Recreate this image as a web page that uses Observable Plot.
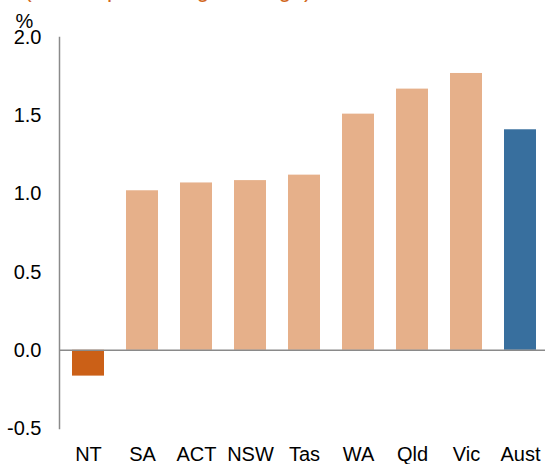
<!DOCTYPE html>
<html>
<head>
<meta charset="utf-8">
<script src="https://cdn.jsdelivr.net/npm/d3@7"></script>
<script src="https://cdn.jsdelivr.net/npm/@observablehq/plot@0.6"></script>
<style>
  html, body { margin: 0; padding: 0; background: #fff; }
  #wrap { position: relative; width: 545px; height: 464px; overflow: hidden; font-family: "Liberation Sans", Arial, sans-serif; }
  #title { position: absolute; left: 24px; top: -22px; font-size: 23px; line-height: 23px; color: #D2691E; white-space: nowrap; z-index: 2; }
</style>
</head>
<body>
<div id="wrap">
  <div id="title">(annual percentage change)</div>
  <div id="chart"></div>
</div>
<script>
const categories = ["NT", "SA", "ACT", "NSW", "Tas", "WA", "Qld", "Vic", "Aust"];
const values = [-0.165, 1.02, 1.07, 1.085, 1.12, 1.51, 1.67, 1.77, 1.41];
const yTicks = [-0.5, 0, 0.5, 1.0, 1.5, 2.0];
const unitLabel = ["%"];

const data = categories.map((c, i) => ({category: c, value: values[i]}));
const fillFor = d => d.category === "Aust" ? "#386F9E" : (d.value < 0 ? "#CB6017" : "#E6B08A");
const fmt = d => d.toFixed(1);

const chart = Plot.plot({
  width: 545,
  height: 464,
  marginLeft: 59,
  marginRight: 0,
  marginTop: 37,
  marginBottom: 36,
  style: {fontFamily: "'Liberation Sans', Arial, sans-serif", fontSize: "20px", color: "#000", background: "#fff"},
  x: {domain: categories, range: [59, 548], paddingInner: 0.41, paddingOuter: 0.2, label: null},
  y: {domain: [-0.5, 2.0], label: null},
  marks: [
    Plot.barY(data, {x: "category", y: "value", fill: fillFor}),
    Plot.ruleY([0], {stroke: "#8a8a8a", strokeWidth: 1.5}),
    Plot.frame({anchor: "left", stroke: "#8a8a8a", strokeWidth: 1.5}),
    Plot.axisY(yTicks, {tickSize: 0, tickPadding: 18, tickFormat: fmt, label: null, fontSize: 20, fill: "#000"}),
    Plot.axisX({tickSize: 0, tickPadding: 18, label: null, fontSize: 20, fill: "#000"}),
    Plot.text(unitLabel, {text: d => d, frameAnchor: "top-left", dx: -35, dy: -24, fontSize: 20, fill: "#000", textAnchor: "middle"})
  ]
});
document.getElementById("chart").appendChild(chart);
</script>
</body>
</html>
